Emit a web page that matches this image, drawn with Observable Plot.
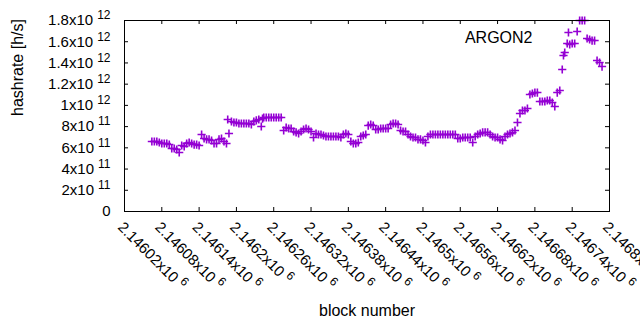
<!DOCTYPE html>
<html><head><meta charset="utf-8">
<script src="https://cdn.jsdelivr.net/npm/d3@7"></script>
<script src="https://cdn.jsdelivr.net/npm/@observablehq/plot@0.6"></script>
<style>html,body{margin:0;padding:0;background:#fff;} svg{display:block}</style>
</head><body><div id="chart"></div>
<script>
const blocks = [
2146064,2146068,2146072,2146076,2146080,2146084,2146088,2146092,2146096,2146100,
2146104,2146108,2146112,2146116,2146120,2146124,2146128,2146132,2146136,2146140,
2146144,2146148,2146152,2146156,2146160,2146164,2146168,2146172,2146176,2146180,
2146184,2146186,2146188,2146192,2146196,2146200,2146204,2146208,2146212,2146216,
2146220,2146224,2146228,2146232,2146236,2146240,2146242,2146244,2146248,2146252,
2146256,2146260,2146264,2146268,2146272,2146276,2146280,2146284,2146288,2146292,
2146296,2146300,2146304,2146308,2146312,2146316,2146320,2146324,2146328,2146332,
2146336,2146340,2146344,2146348,2146352,2146356,2146360,2146364,2146368,2146372,
2146376,2146380,2146384,2146388,2146392,2146396,2146400,2146404,2146408,2146412,
2146416,2146420,2146424,2146428,2146432,2146436,2146440,2146444,2146448,2146452,
2146456,2146460,2146464,2146468,2146472,2146476,2146480,2146484,2146488,2146492,
2146496,2146500,2146504,2146508,2146512,2146516,2146520,2146524,2146528,2146532,
2146536,2146540,2146544,2146548,2146552,2146556,2146560,2146564,2146568,2146572,
2146576,2146580,2146584,2146588,2146592,2146596,2146600,2146604,2146608,2146612,
2146616,2146620,2146624,2146628,2146632,2146636,2146640,2146644,2146648,2146652,
2146656,2146660,2146664,2146668,2146672,2146676,2146680,2146684,2146688,2146692,
2146696,2146700,2146704,2146708,2146712,2146716,2146720,2146724,2146726,2146728,
2146732,2146734,2146736,2146740,2146744,2146748,2146752,2146756,2146760,2146764,
2146768,2146772,2146776,2146780,2146784,2146788
];
// hashrate in units of 1e11 h/s
const hashrateE11 = [
6.60,6.60,6.60,6.50,6.41,6.41,6.41,6.31,5.94,5.94,
5.84,5.56,6.22,6.13,6.41,6.50,6.41,6.31,6.31,6.22,
7.26,6.88,6.79,6.79,6.69,6.41,6.41,6.79,6.88,6.60,
6.41,8.67,7.35,8.48,8.39,8.39,8.29,8.29,8.29,8.29,
8.29,8.20,8.48,8.58,8.67,8.01,8.76,8.86,8.86,8.86,
8.86,8.86,8.86,8.86,8.86,7.63,7.92,7.82,7.82,7.54,
7.45,7.35,7.54,7.73,7.82,7.73,7.54,6.97,7.35,7.26,
7.26,7.16,7.07,7.07,7.07,7.07,7.07,7.07,6.97,7.26,
7.35,7.26,6.60,6.41,6.41,6.50,7.07,7.16,7.26,8.10,
8.20,8.10,7.73,7.73,7.82,7.82,7.82,7.82,8.20,8.29,
8.29,8.20,7.63,7.54,7.54,7.26,7.07,6.97,6.97,6.79,
6.79,6.69,6.50,7.07,7.26,7.26,7.26,7.26,7.26,7.26,
7.26,7.26,7.26,7.26,7.26,6.88,6.88,6.97,6.97,6.97,
6.97,6.50,7.07,7.26,7.35,7.45,7.45,7.45,7.26,7.07,
6.97,6.97,6.79,6.69,7.07,7.26,7.35,7.45,7.63,8.39,
9.24,9.52,9.52,9.71,11.03,11.12,11.21,11.21,10.37,10.37,
10.37,10.46,10.46,10.27,9.90,11.21,11.40,13.38,14.70,14.98,
15.83,16.87,15.74,15.83,15.83,16.96,18.00,18.00,18.00,16.30,
16.21,16.11,16.11,14.23,14.04,13.66
];
const xTicks = [2146020,2146080,2146140,2146200,2146260,2146320,2146380,2146440,2146500,2146560,2146620,2146680,2146740,2146800];
const xTickLabels = ["2.14602x10^6","2.14608x10^6","2.14614x10^6","2.1462x10^6","2.14626x10^6","2.14632x10^6","2.14638x10^6","2.14644x10^6","2.1465x10^6","2.14656x10^6","2.14662x10^6","2.14668x10^6","2.14674x10^6","2.1468x10^6"];
const yTicks = [0,2e11,4e11,6e11,8e11,1e12,1.2e12,1.4e12,1.6e12,1.8e12];
const yTickLabels = ["0","2x10^11","4x10^11","6x10^11","8x10^11","1x10^12","1.2x10^12","1.4x10^12","1.6x10^12","1.8x10^12"];
const seriesName = "ARGON2";
const xLabel = "block number";
const yLabel = "hashrate [h/s]";

const n = Math.min(blocks.length, hashrateE11.length);
const data = [];
for (let i = 0; i < n; i++) data.push({block: blocks[i], hashrate: hashrateE11[i] * 1e11});

const W = 640, H = 330, mL = 124, mR = 31, mT = 20, mB = 119;
const plotW = W - mL - mR, plotH = H - mT - mB;
const tk = 4;
const font = "'Liberation Sans', Arial, Helvetica, sans-serif";

const chart = Plot.plot({
  width: W, height: H,
  marginLeft: mL, marginRight: mR, marginTop: mT, marginBottom: mB,
  style: {fontFamily: font, fontSize: "15px", background: "#fff", color: "#000", overflow: "hidden"},
  x: {domain: [2146020, 2146800], axis: null},
  y: {domain: [0, 1.8e12], axis: null},
  marks: [
    Plot.dot(data, {x: "block", y: "hashrate", symbol: "plus", r: 2.75, stroke: "#9400d3", strokeWidth: 1.6}),
    Plot.frame({stroke: "#000", strokeWidth: 1}),
    Plot.tickX(xTicks, {x: d => d, insetTop: plotH - tk, stroke: "#000"}),
    Plot.tickX(xTicks, {x: d => d, insetBottom: plotH - tk, stroke: "#000"}),
    Plot.tickY(yTicks, {y: d => d, insetRight: plotW - tk, stroke: "#000"}),
    Plot.tickY(yTicks, {y: d => d, insetLeft: plotW - tk, stroke: "#000"}),
    Plot.text(yTicks, {y: d => d, text: (d, i) => yTickLabels[i], frameAnchor: "left", textAnchor: "end", dx: -14, fontSize: 15, fill: "#000"}),
    Plot.text(xTicks, {x: d => d, text: (d, i) => xTickLabels[i], frameAnchor: "bottom", textAnchor: "start", lineAnchor: "top", rotate: 45, dy: 9, fontSize: 15, fill: "#000"}),
    Plot.text([yLabel], {text: d => d, frameAnchor: "left", rotate: -90, dx: -107, fontSize: 16, fill: "#000"}),
    Plot.text([xLabel], {text: d => d, frameAnchor: "bottom", dy: 104, fontSize: 16, fill: "#000"}),
    Plot.text([seriesName], {text: d => d, frameAnchor: "top-right", textAnchor: "end", dx: -77, dy: 11, fontSize: 16, fill: "#000"})
  ]
});

// render "10^e" as 10 with a raised exponent, as in the reference
chart.querySelectorAll("text").forEach(t => {
  const s = t.textContent; const k = s.indexOf("^");
  if (k < 0) return;
  t.textContent = s.slice(0, k);
  const ts = document.createElementNS("http://www.w3.org/2000/svg", "tspan");
  ts.setAttribute("dx", "4");
  ts.setAttribute("dy", "-6");
  ts.setAttribute("font-size", "12");
  ts.textContent = s.slice(k + 1);
  t.appendChild(ts);
});
document.getElementById("chart").appendChild(chart);
</script>
</body></html>
